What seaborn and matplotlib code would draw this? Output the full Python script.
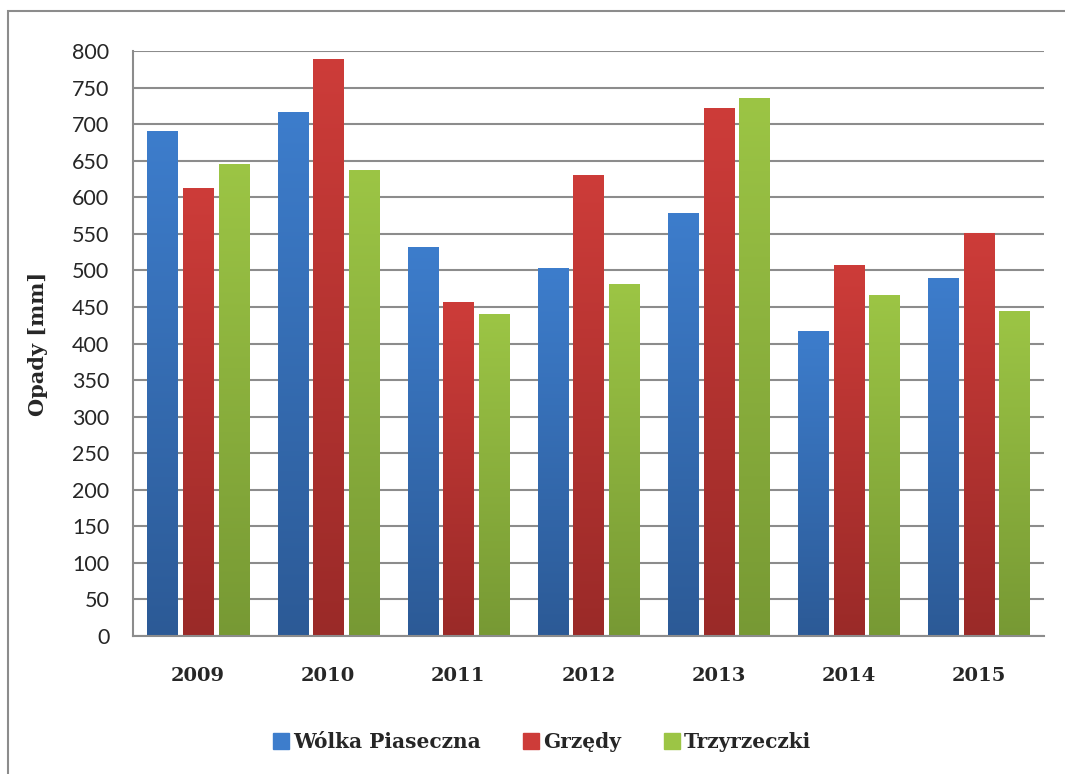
import numpy as np
import pandas as pd
import matplotlib
matplotlib.use("Agg")
import matplotlib.pyplot as plt
import seaborn as sns
from matplotlib.colors import LinearSegmentedColormap
from matplotlib.patches import Rectangle
from matplotlib.lines import Line2D

years = ["2009", "2010", "2011", "2012", "2013", "2014", "2015"]
series = ["Wólka Piaseczna", "Grzędy", "Trzyrzeczki"]
wolka = [690, 716, 532, 503, 578, 417, 490]
grzedy = [612, 789, 457, 630, 722, 507, 551]
trzy = [645, 637, 440, 481, 736, 466, 444]
yticks = list(range(0, 801, 50))

top_cols = ["#3d7dcc", "#cd3c39", "#9cc545"]
bot_cols = ["#2c5a96", "#9a2a28", "#779934"]

df = pd.DataFrame({
    "Rok": years * 3,
    "Stacja": [series[0]] * 7 + [series[1]] * 7 + [series[2]] * 7,
    "Opady": wolka + grzedy + trzy,
})

sns.set_style("white")
fig = plt.figure(figsize=(10.65, 7.74), dpi=100)
ax = fig.add_axes([133 / 1065, 138 / 774, (1044 - 133) / 1065, (636 - 51) / 774])

sns.barplot(data=df, x="Rok", y="Opady", hue="Stacja", palette=top_cols,
            width=0.82, gap=0.15, ax=ax, legend=False, saturation=1)

ax.set_ylim(0, 800)
ax.set_xlim(-0.5, 6.5)
ax.set_yticks(yticks)
ax.yaxis.grid(True, color="#8c8c8c", lw=1.5)
ax.set_axisbelow(True)
for s in ["top", "right"]:
    ax.spines[s].set_visible(False)
for s in ["left", "bottom"]:
    ax.spines[s].set_color("#8c8c8c")
    ax.spines[s].set_linewidth(1.5)
ax.tick_params(axis="both", length=0)
ax.tick_params(axis="y", pad=17)
ax.tick_params(axis="x", pad=22)

for lab in ax.get_yticklabels():
    lab.set_fontfamily("Lato")
    lab.set_fontsize(15.5)
for lab in ax.get_xticklabels():
    lab.set_fontfamily("DejaVu Serif")
    lab.set_fontweight("bold")
    lab.set_fontsize(14)

ax.set_xlabel("")
ax.set_ylabel("Opady [mm]", fontfamily="DejaVu Serif", fontweight="bold",
              fontsize=15)
ax.yaxis.set_label_coords(-(133 - 48) / 911, 0.5)

# gradient fill for bars
grad = np.linspace(0, 1, 256).reshape(-1, 1)
patches = list(ax.patches)
for i, p in enumerate(patches):
    k = i // 7
    cmap = LinearSegmentedColormap.from_list("g%d" % i, [bot_cols[k], top_cols[k]])
    x0, y0 = p.get_x(), p.get_y()
    w, h = p.get_width(), p.get_height()
    p.set_facecolor("none")
    p.set_edgecolor("none")
    im = ax.imshow(grad, cmap=cmap, origin="lower", aspect="auto",
                   extent=[x0, x0 + w, y0, y0 + h], zorder=2)
    im.set_clip_path(p)
ax.set_xlim(-0.5, 6.5)
ax.set_ylim(0, 800)

handles = [Line2D([0], [0], marker="s", linestyle="none", markersize=11,
                  markerfacecolor=c, markeredgecolor=c) for c in top_cols]
fig.legend(handles, series, loc="center", bbox_to_anchor=(541 / 1065, 32 / 774),
           ncol=3, frameon=False, handletextpad=0.1, handlelength=1.0,
           columnspacing=2.0,
           prop={"family": "DejaVu Serif", "weight": "bold", "size": 14.5})

fig.patches.append(Rectangle((8 / 1065, -0.05), 1.1, (774 - 11) / 774 + 0.05,
                             transform=fig.transFigure, fill=False,
                             edgecolor="#8c8c8c", lw=1.5))

fig.savefig("out.png", dpi=100)
